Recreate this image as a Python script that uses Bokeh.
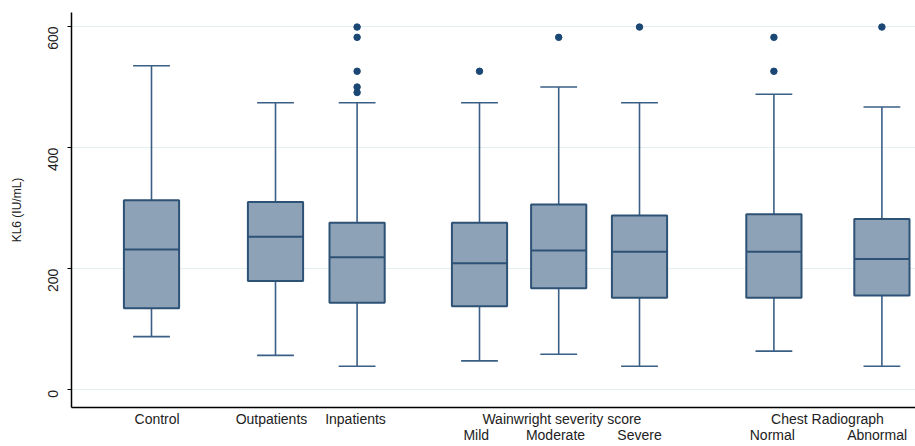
import math
import numpy as np
from bokeh.plotting import figure
from bokeh.models import ColumnDataSource, Range1d, LinearAxis, FixedTicker
from bokeh.embed import file_html
from bokeh.resources import INLINE

# ---- data ----
groups = ["Control", "Outpatients", "Inpatients", "Mild", "Moderate", "Severe", "Normal", "Abnormal"]
lower = [88, 57, 39, 48, 59, 39, 64, 39]
q1 = [135, 180, 144, 138, 168, 152, 152, 156]
median = [232, 253, 219, 209, 230, 228, 228, 216]
q3 = [313, 310, 276, 276, 306, 288, 290, 282]
upper = [535, 474, 474, 474, 500, 474, 488, 467]
outlier_group = ["Inpatients", "Inpatients", "Inpatients", "Inpatients", "Inpatients",
                 "Mild", "Moderate", "Severe", "Normal", "Normal", "Abnormal"]
outlier_value = [599, 582, 526, 500, 491, 526, 582, 599, 582, 526, 599]
row1_labels = ["Control", "Outpatients", "Inpatients", "Wainwright severity score", "Chest Radiograph"]
row2_labels = ["Mild", "Moderate", "Severe", "Normal", "Abnormal"]
y_ticks = [0, 200, 400, 600]

# ---- layout (positions of boxes and labels along the x axis) ----
box_pos = [1.0, 2.55, 3.57, 5.1, 6.09, 7.1, 8.78, 10.13]
row1_pos = [1.07, 2.5, 3.55, 6.13, 9.45]
row2_pos = [5.06, 6.05, 7.1, 8.76, 10.07]
box_w = 0.69
cap_w = 0.46

FONT = "Liberation Sans"
TXT = "#222222"
FILL = "#8DA2B6"
EDGE = "#2D5276"
WHISK = "#3A5F86"
DOT = "#1B4775"

pos = np.array(box_pos)
src = ColumnDataSource(dict(
    x=pos, lower=lower, q1=q1, median=median, q3=q3, upper=upper,
    x0=pos - box_w / 2, x1=pos + box_w / 2,
    c0=pos - cap_w / 2, c1=pos + cap_w / 2,
))
gmap = dict(zip(groups, box_pos))
osrc = ColumnDataSource(dict(x=[gmap[g] for g in outlier_group], y=outlier_value))

p = figure(width=915, height=446, output_backend="svg", toolbar_location=None,
           x_range=Range1d(0, 10.55), y_range=Range1d(-29, 623),
           x_axis_location=None,
           min_border_left=71, min_border_right=0, min_border_top=12, min_border_bottom=39)
p.outline_line_color = None
p.background_fill_color = "white"
p.border_fill_color = "white"

# whiskers
p.segment(x0="x", y0="q3", x1="x", y1="upper", source=src, line_color=WHISK, line_width=1.6)
p.segment(x0="x", y0="q1", x1="x", y1="lower", source=src, line_color=WHISK, line_width=1.6)
p.segment(x0="c0", y0="upper", x1="c1", y1="upper", source=src, line_color=WHISK, line_width=1.6)
p.segment(x0="c0", y0="lower", x1="c1", y1="lower", source=src, line_color=WHISK, line_width=1.6)
# boxes
p.vbar(x="x", width=box_w, bottom="q1", top="q3", source=src,
       fill_color=FILL, line_color=EDGE, line_width=2)
p.segment(x0="x0", y0="median", x1="x1", y1="median", source=src, line_color=EDGE, line_width=2)
# outliers
p.scatter(x="x", y="y", source=osrc, marker="circle", size=6.5, fill_color=DOT, line_color=DOT)

# y axis
ya = p.yaxis[0]
ya.ticker = FixedTicker(ticks=y_ticks)
ya.axis_label = "KL6 (IU/mL)"
ya.axis_label_text_font = FONT
ya.axis_label_text_font_size = "12px"
ya.axis_label_text_font_style = "normal"
ya.axis_label_text_color = TXT
ya.axis_label_standoff = 17
ya.major_label_orientation = math.pi / 2
ya.major_label_text_font = FONT
ya.major_label_text_font_size = "14px"
ya.major_label_text_color = TXT
ya.major_label_standoff = 14
ya.major_tick_out = 4
ya.major_tick_in = 0
ya.minor_tick_line_color = None
ya.axis_line_color = "black"
ya.axis_line_width = 1.5
ya.major_tick_line_color = "black"

p.ygrid.ticker = FixedTicker(ticks=y_ticks)
p.ygrid.grid_line_color = "#E4EDF0"
p.ygrid.grid_line_width = 1
p.xgrid.visible = False

# x axes (two label rows)
ax1 = LinearAxis(ticker=FixedTicker(ticks=row1_pos),
                 major_label_overrides={k: v for k, v in zip(row1_pos, row1_labels)})
ax2 = LinearAxis(ticker=FixedTicker(ticks=row2_pos),
                 major_label_overrides={k: v for k, v in zip(row2_pos, row2_labels)})
for ax, sd in ((ax1, 3), (ax2, -3)):
    ax.major_tick_line_color = None
    ax.minor_tick_line_color = None
    ax.major_tick_out = 0
    ax.major_tick_in = 0
    ax.major_label_standoff = sd
    ax.major_label_text_font = FONT
    ax.major_label_text_font_size = "14px"
    ax.major_label_text_color = TXT
ax1.axis_line_color = "black"
ax1.axis_line_width = 1.5
ax2.axis_line_color = None
p.add_layout(ax1, "below")
p.add_layout(ax2, "below")

open("out.html", "w").write(file_html(p, INLINE))
